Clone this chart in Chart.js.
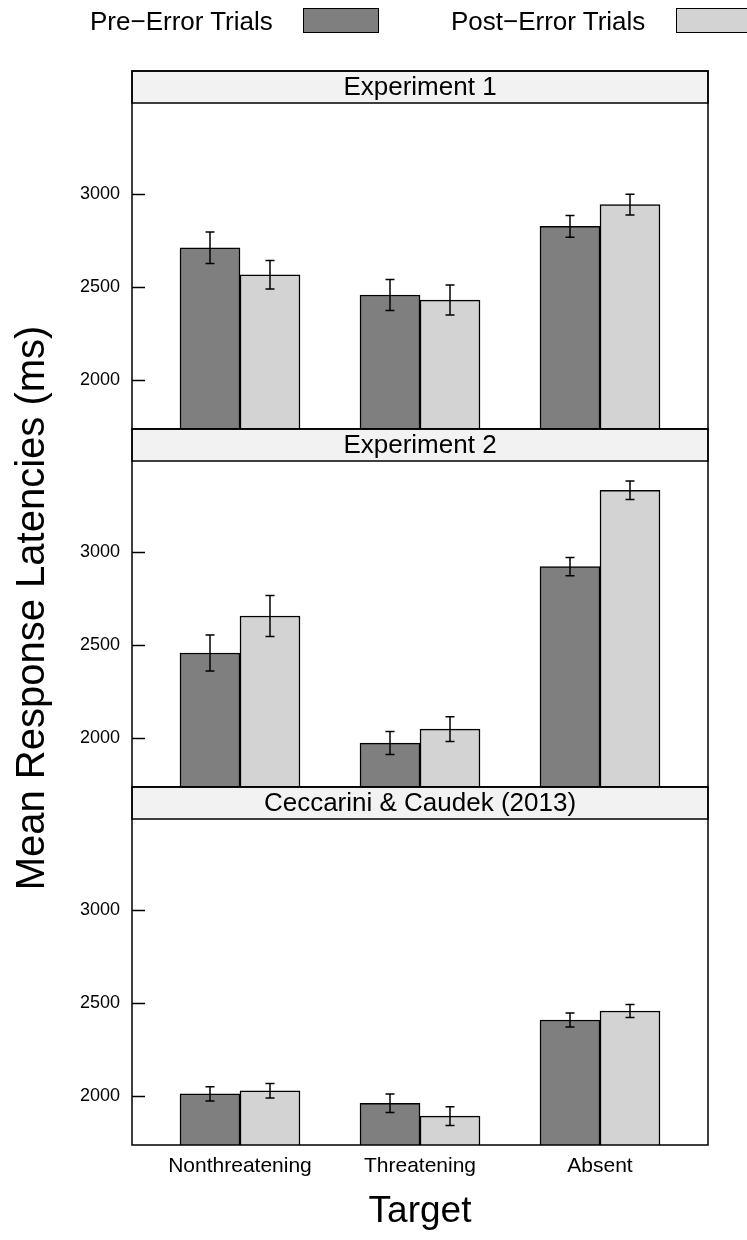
<!DOCTYPE html>
<html>
<head>
<meta charset="utf-8">
<script src="https://cdn.jsdelivr.net/npm/chart.js@4.4.0/dist/chart.umd.min.js"></script>
<style>
  html, body { margin: 0; padding: 0; background: #fff; }
  #wrap { position: relative; width: 747px; height: 1240px; overflow: hidden;
          font-family: "Liberation Sans", Arial, sans-serif; }
  #chart { position: absolute; left: 0; top: 0; }
  .leg-text { position: absolute; top: 5px; font-size: 26px; line-height: 32px; color: #000; white-space: nowrap; }
  .leg-box { position: absolute; top: 8px; width: 76px; height: 25px; border: 1.5px solid #000; box-sizing: border-box; }
</style>
</head>
<body>
<div id="wrap">
  <canvas id="chart" width="747" height="1240"></canvas>
</div>
<script>
// ---- data ----
const categories = ['Nonthreatening', 'Threatening', 'Absent'];
const categoryX = [1, 2, 3];
const panelTitles = ['Experiment 1', 'Experiment 2', 'Ceccarini & Caudek (2013)'];
const seriesNames = ['Pre\u2212Error Trials', 'Post\u2212Error Trials'];
const yTicks = [2000, 2500, 3000];

const preExp1  = [2711, 2457, 2826];
const postExp1 = [2566, 2430, 2943];
const preExp2  = [2457, 1973, 2921];
const postExp2 = [2656, 2048, 3332];
const preCC    = [2012, 1961, 2409];
const postCC   = [2028, 1892, 2457];

// half-length of the error bars
const preExp1Err  = [85, 83, 58];
const postExp1Err = [77, 81, 56];
const preExp2Err  = [97, 62, 49];
const postExp2Err = [110, 67, 50];
const preCCErr    = [38, 50, 38];
const postCCErr   = [39, 50, 35];

// shared y limits of each panel body; the strip sits above yBodyMax
const yMin = 1737;
const yBodyMax = 3489;
const yAxisMax = 3661;

const FONT = "'Liberation Sans', Arial, sans-serif";
const preColor = '#7f7f7f';
const postColor = '#d3d3d3';

// ---- legend (text then swatch, as in the figure) ----
const wrap = document.getElementById('wrap');
[[seriesNames[0], preColor, 90, 303], [seriesNames[1], postColor, 451, 676]].forEach(([name, col, tx, bx]) => {
    const t = document.createElement('div');
    t.className = 'leg-text';
    t.style.left = tx + 'px';
    t.textContent = name;
    wrap.appendChild(t);
    const b = document.createElement('div');
    b.className = 'leg-box';
    b.style.left = bx + 'px';
    b.style.background = col;
    wrap.appendChild(b);
});

// ---- datasets ----
const panelIds = ['y1', 'y2', 'y3'];
const panelSeries = [
    [preExp1, preExp1Err, postExp1, postExp1Err],
    [preExp2, preExp2Err, postExp2, postExp2Err],
    [preCC, preCCErr, postCC, postCCErr]
];

const datasets = [];
panelIds.forEach((id, p) => {
    const [pre, preErr, post, postErr] = panelSeries[p];
    [[pre, preErr, preColor, 'pre', seriesNames[0]],
     [post, postErr, postColor, 'post', seriesNames[1]]].forEach(([vals, errs, col, stack, label]) => {
        datasets.push({
            label: label,
            data: vals.map((v, i) => ({ x: categoryX[i], y: v })),
            errors: errs,
            yAxisID: id,
            stack: stack,
            base: yMin,
            backgroundColor: col,
            borderColor: '#000',
            borderWidth: 1.5,
            barThickness: 60
        });
    });
});

// ---- strips, frames, inward ticks and error bars ----
const latticePanels = {
    id: 'latticePanels',
    afterDatasetsDraw(chart) {
        const ctx = chart.ctx;
        const { left, right } = chart.chartArea;
        ctx.save();

        // error bars
        ctx.strokeStyle = '#000';
        ctx.lineWidth = 1.5;
        chart.data.datasets.forEach((ds, i) => {
            const meta = chart.getDatasetMeta(i);
            const ys = chart.scales[ds.yAxisID];
            meta.data.forEach((bar, j) => {
                const v = ds.data[j].y;
                const e = ds.errors[j];
                const yt = ys.getPixelForValue(v + e);
                const yb = ys.getPixelForValue(v - e);
                ctx.beginPath();
                ctx.moveTo(bar.x, yt); ctx.lineTo(bar.x, yb);
                ctx.moveTo(bar.x - 4.5, yt); ctx.lineTo(bar.x + 4.5, yt);
                ctx.moveTo(bar.x - 4.5, yb); ctx.lineTo(bar.x + 4.5, yb);
                ctx.stroke();
            });
        });

        panelIds.forEach((id, p) => {
            const s = chart.scales[id];
            const stripBottom = s.getPixelForValue(yBodyMax);

            ctx.fillStyle = '#f2f2f2';
            ctx.fillRect(left, s.top, right - left, stripBottom - s.top);

            ctx.lineWidth = 1.5;
            ctx.strokeStyle = '#000';
            ctx.strokeRect(left, s.top, right - left, stripBottom - s.top);
            ctx.strokeRect(left, s.top, right - left, s.bottom - s.top);

            ctx.fillStyle = '#000';
            ctx.font = '26px ' + FONT;
            ctx.textAlign = 'center';
            ctx.textBaseline = 'middle';
            ctx.fillText(panelTitles[p], (left + right) / 2, (s.top + stripBottom) / 2 + 1);

            ctx.beginPath();
            yTicks.forEach(t => {
                const y = Math.round(s.getPixelForValue(t)) + 0.5;
                ctx.moveTo(left, y);
                ctx.lineTo(left + 13, y);
            });
            ctx.stroke();
        });
        ctx.restore();
    }
};

function yScale(id, weight, withTitle) {
    return {
        type: 'linear',
        position: 'left',
        stack: 'panels',
        stackWeight: 1,
        weight: weight,
        stacked: false,
        min: yMin,
        max: yAxisMax,
        grid: { display: false, drawTicks: false },
        border: { display: false },
        afterBuildTicks: (scale) => { scale.ticks = yTicks.map(v => ({ value: v })); },
        afterFit: (scale) => { scale.width = 132; },
        ticks: {
            padding: 12,
            color: '#000',
            font: { size: 18, family: FONT },
            callback: (v) => String(v)
        },
        title: {
            display: withTitle,
            text: 'Mean Response Latencies (ms)',
            color: '#000',
            font: { size: 40, family: FONT },
            padding: 9
        }
    };
}

Chart.defaults.font.family = FONT;

new Chart(document.getElementById('chart'), {
    type: 'bar',
    data: { datasets: datasets },
    options: {
        responsive: false,
        animation: false,
        devicePixelRatio: 1,
        layout: { padding: { left: 0, top: 71, right: 39, bottom: 0 } },
        plugins: {
            legend: { display: false },
            tooltip: { enabled: false }
        },
        scales: {
            x: {
                type: 'linear',
                position: 'bottom',
                offset: false,
                min: 0.4,
                max: 3.6,
                grid: { display: false, drawTicks: false },
                border: { display: false },
                afterBuildTicks: (scale) => { scale.ticks = categoryX.map(v => ({ value: v })); },
                afterFit: (scale) => { scale.height = 95; },
                ticks: {
                    padding: 9,
                    color: '#000',
                    maxRotation: 0,
                    autoSkip: false,
                    font: { size: 21, family: FONT },
                    callback: (v) => categories[categoryX.indexOf(v)]
                },
                title: {
                    display: true,
                    text: 'Target',
                    color: '#000',
                    font: { size: 37, family: FONT },
                    padding: { top: 0, bottom: 6 }
                }
            },
            y1: yScale('y1', 3, false),
            y2: yScale('y2', 2, true),
            y3: yScale('y3', 1, false)
        }
    },
    plugins: [latticePanels]
});
</script>
</body>
</html>
